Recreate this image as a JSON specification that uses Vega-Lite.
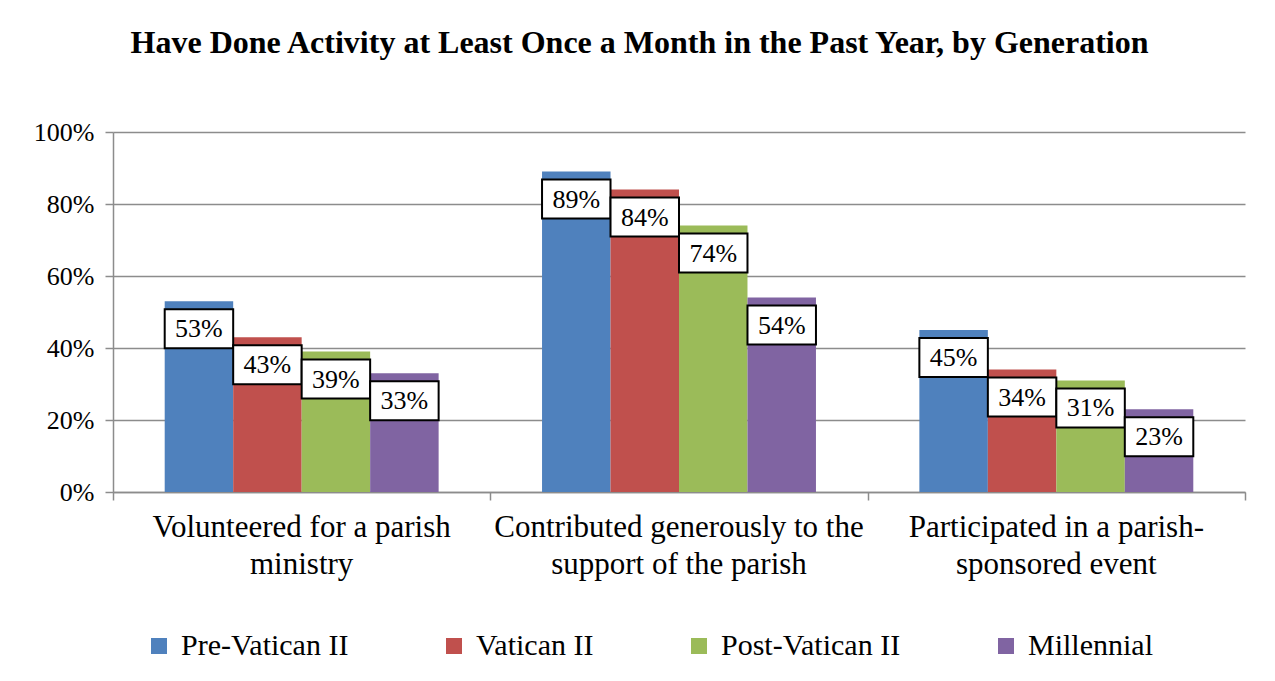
{
  "$schema": "https://vega.github.io/schema/vega-lite/v6.json",
  "autosize": "none",
  "width": 1132,
  "height": 360,
  "padding": {"left": 113, "top": 132, "right": 30, "bottom": 189},
  "background": "white",
  "title": {
    "text": "Have Done Activity at Least Once a Month in the Past Year, by Generation",
    "font": "Liberation Serif",
    "fontSize": 32,
    "fontWeight": "bold",
    "color": "black",
    "anchor": "middle",
    "frame": "bounds",
    "offset": 59
  },
  "config": {
    "view": {"stroke": null},
    "font": "Liberation Serif"
  },
  "data": {
    "values": [
      {"activity": "Volunteered for a parish ministry", "generation": "Pre-Vatican II", "value": 0.53},
      {"activity": "Volunteered for a parish ministry", "generation": "Vatican II", "value": 0.43},
      {"activity": "Volunteered for a parish ministry", "generation": "Post-Vatican II", "value": 0.39},
      {"activity": "Volunteered for a parish ministry", "generation": "Millennial", "value": 0.33},
      {"activity": "Contributed generously to the support of the parish", "generation": "Pre-Vatican II", "value": 0.89},
      {"activity": "Contributed generously to the support of the parish", "generation": "Vatican II", "value": 0.84},
      {"activity": "Contributed generously to the support of the parish", "generation": "Post-Vatican II", "value": 0.74},
      {"activity": "Contributed generously to the support of the parish", "generation": "Millennial", "value": 0.54},
      {"activity": "Participated in a parish-sponsored event", "generation": "Pre-Vatican II", "value": 0.45},
      {"activity": "Participated in a parish-sponsored event", "generation": "Vatican II", "value": 0.34},
      {"activity": "Participated in a parish-sponsored event", "generation": "Post-Vatican II", "value": 0.31},
      {"activity": "Participated in a parish-sponsored event", "generation": "Millennial", "value": 0.23}
    ]
  },
  "encoding": {
    "xOffset": {
      "field": "generation",
      "type": "nominal",
      "sort": ["Pre-Vatican II", "Vatican II", "Post-Vatican II", "Millennial"],
      "scale": {"paddingInner": 0, "paddingOuter": 0.755}
    },
    "y": {
      "field": "value",
      "type": "quantitative",
      "scale": {"domain": [0, 1]},
      "axis": {
        "title": null,
        "format": ".0%",
        "values": [0, 0.2, 0.4, 0.6, 0.8, 1],
        "labelFont": "Liberation Serif",
        "labelFontSize": 26,
        "labelColor": "black",
        "labelPadding": 11,
        "tickSize": 8,
        "tickColor": "#8c8c8c",
        "tickWidth": 1.5,
        "domainColor": "#8c8c8c",
        "domainWidth": 1.5,
        "gridColor": "#8c8c8c",
        "gridWidth": 1.5
      }
    }
  },
  "resolve": {"axis": {"x": "independent"}},
  "layer": [
    {
      "mark": {"type": "bar"},
      "encoding": {
        "x": {
          "field": "activity",
          "type": "nominal",
          "sort": null,
          "scale": {"paddingInner": 0, "paddingOuter": 0},
          "axis": {
            "title": null,
            "orient": "bottom",
            "labelAngle": 0,
            "labelFont": "Liberation Serif",
            "labelFontSize": 31,
            "labelColor": "black",
            "labelBaseline": "top",
            "labelPadding": 20,
            "labelLineHeight": 37,
            "labelLimit": 0,
            "ticks": false,
            "domainColor": "#8c8c8c",
            "domainWidth": 1.5,
            "labelExpr": "datum.value == 'Volunteered for a parish ministry' ? ['Volunteered for a parish', 'ministry'] : datum.value == 'Contributed generously to the support of the parish' ? ['Contributed generously to the', 'support of the parish'] : ['Participated in a parish-', 'sponsored event']"
          }
        },
        "color": {
          "field": "generation",
          "type": "nominal",
          "sort": ["Pre-Vatican II", "Vatican II", "Post-Vatican II", "Millennial"],
          "scale": {
            "domain": ["Pre-Vatican II", "Vatican II", "Post-Vatican II", "Millennial"],
            "range": ["#4F81BD", "#C0504D", "#9BBB59", "#8064A2"]
          },
          "legend": {
            "title": null,
            "orient": "bottom",
            "direction": "horizontal",
            "offset": 21,
            "padding": 31,
            "symbolType": "square",
            "symbolSize": 256,
            "symbolStrokeWidth": 0,
            "symbolOpacity": 1,
            "labelFont": "Liberation Serif",
            "labelFontSize": 30,
            "labelColor": "black",
            "labelOffset": 7,
            "labelLimit": 0,
            "columnPadding": 90
          }
        }
      }
    },
    {
      "mark": {"type": "bar", "fill": "white", "stroke": "black", "strokeWidth": 2, "yOffset": 8, "y2Offset": 47},
      "encoding": {
        "x": {
          "field": "activity",
          "type": "nominal",
          "sort": null,
          "axis": {
            "title": null,
            "orient": "bottom",
            "labels": false,
            "domain": false,
            "grid": false,
            "ticks": true,
            "tickBand": "extent",
            "tickSize": 8,
            "tickColor": "#8c8c8c",
            "tickWidth": 1.5
          }
        },
        "y2": {"field": "value"}
      }
    },
    {
      "mark": {"type": "text", "font": "Liberation Serif", "fontSize": 26, "color": "black", "baseline": "middle", "dy": 28},
      "encoding": {
        "x": {"field": "activity", "type": "nominal", "sort": null, "axis": null},
        "text": {"field": "value", "type": "quantitative", "format": ".0%"}
      }
    }
  ]
}
